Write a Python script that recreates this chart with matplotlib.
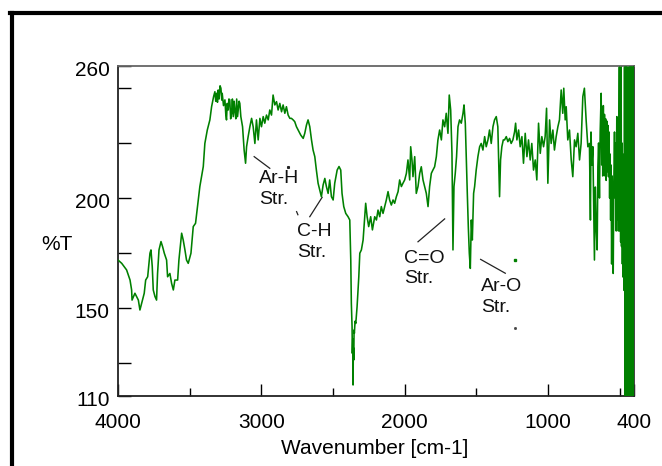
import matplotlib
matplotlib.use("Agg")
import matplotlib.pyplot as plt
from matplotlib.lines import Line2D
from matplotlib.transforms import ScaledTranslation

plt.rcParams['font.family'] = ['Liberation Sans', 'DejaVu Sans']

# IR spectrum: wavenumber (cm-1) and %T
wavenumber = [
    4000, 3974, 3940, 3916, 3905, 3902, 3882, 3858, 3847, 3835, 3817, 3807, 3793, 3777, 3770,
    3761, 3754, 3742, 3731, 3724, 3714, 3700, 3689, 3677, 3661, 3654, 3638, 3626, 3614, 3603,
    3584, 3575, 3563, 3556, 3545, 3533, 3522, 3510, 3491, 3475, 3459, 3445, 3429, 3417, 3405,
    3394, 3377, 3359, 3347, 3333, 3324, 3318, 3312, 3306, 3301, 3295, 3288, 3282, 3276, 3273,
    3264, 3254, 3248, 3243, 3238, 3231, 3226, 3220, 3214, 3208, 3202, 3196, 3190, 3185, 3178,
    3172, 3166, 3161, 3155, 3150, 3143, 3131, 3120, 3110,
    3103, 3092, 3080, 3068, 3057, 3045, 3034, 3022, 3010, 2999, 2987, 2976, 2964, 2952, 2941,
    2929, 2918, 2906, 2894, 2883, 2871, 2859, 2848, 2836, 2825, 2813, 2801, 2790, 2778, 2767,
    2755, 2743, 2725, 2708, 2697, 2685, 2674, 2662, 2650, 2639, 2627, 2616, 2604, 2592, 2581,
    2569, 2557, 2546, 2534, 2523, 2511, 2499, 2488, 2471, 2458, 2446, 2437, 2425, 2411, 2395,
    2383, 2376, 2372, 2367, 2365, 2362, 2360, 2358, 2355, 2353, 2351, 2346, 2341, 2332, 2320,
    2313, 2302, 2290, 2279, 2272, 2262, 2251, 2237, 2225, 2209,
    2197, 2186, 2174, 2163, 2151, 2139, 2128, 2116, 2105, 2093, 2081, 2070, 2058, 2046, 2035,
    2023, 2012, 2000, 1988, 1977, 1965, 1958, 1949, 1942, 1930, 1919, 1907, 1895, 1884, 1872,
    1861, 1849, 1837, 1826, 1814, 1803, 1791, 1779, 1768, 1756, 1744, 1733, 1721, 1710, 1698,
    1689, 1679, 1670, 1663, 1656, 1647, 1638, 1628, 1617, 1605, 1593, 1586, 1577, 1570, 1563,
    1556, 1549, 1542, 1535, 1528, 1519, 1512, 1501, 1489, 1477, 1466, 1454, 1442, 1431, 1419,
    1408, 1396, 1384, 1373, 1361, 1350, 1338, 1331, 1322, 1312,
    1303, 1291, 1280, 1268, 1257, 1245, 1233, 1226, 1217, 1205, 1194, 1182, 1171, 1159, 1147,
    1136, 1124, 1113, 1101, 1089, 1078, 1066, 1054, 1043, 1031, 1020, 1010, 1001, 989, 978,
    966, 955, 943, 931, 920, 908, 897, 890, 880, 873, 862, 850, 838, 827, 815,
    804, 792, 780, 769, 757, 746, 734, 722, 711, 704, 700, 694, 687, 680, 676,
    670, 664, 657, 652, 647, 641, 636, 629, 625, 621, 618, 614, 610, 606, 602,
    598, 594, 590, 586, 582, 578, 574, 570, 567, 563, 560, 556, 552, 548, 545,
    541, 536, 532, 528, 524, 520, 516, 513, 509, 505, 502, 499, 496, 493, 490,
    487, 484, 481, 478, 475, 472, 469, 466, 463, 460, 457, 454, 451, 448, 445,
    442, 439, 436, 433, 430, 427, 424, 421, 418, 415, 412, 409, 406, 403, 400,
]
transmittance = [
    171.8, 170.3, 167.3, 162.7, 158.2, 153.6, 156.7, 153.6, 149.1, 152.1, 156.7, 162.7, 164.2, 174.9, 176.4,
    168.8, 158.2, 155.2, 153.6, 165.7, 176.4, 180.2, 177.9, 174.9, 171.8, 164.2, 165.7, 161.2, 158.2, 162.7,
    162.7, 171.8, 179.4, 184.0, 180.9, 176.4, 171.8, 170.3, 174.9, 187.0, 188.5, 196.1, 205.2, 209.7, 214.3,
    224.8, 230.9, 235.5, 241.5, 246.1, 248.3, 244.0, 247.6, 243.5, 249.1, 245.0, 251.0, 249.9, 244.5, 247.6,
    242.0, 244.6, 238.0, 235.5, 243.0, 240.0, 245.0, 244.6, 236.0, 238.5, 245.0, 237.0, 244.0, 240.0, 236.0,
    245.0, 237.0, 240.0, 244.0, 243.0, 237.0, 232.4, 221.8, 215.8,
    223.3, 227.9, 232.4, 236.2, 232.4, 224.8, 235.5, 226.4, 236.2, 232.4, 237.0, 234.0, 237.7, 235.5, 240.0,
    237.7, 246.8, 242.3, 243.8, 240.0, 243.0, 239.2, 242.3, 238.5, 241.5, 237.7, 236.2, 236.2, 235.5, 234.7,
    232.4, 230.9, 228.6, 227.1, 229.4, 233.2, 235.5, 232.4, 226.4, 221.8, 218.8, 212.7, 206.7, 203.6, 200.6,
    205.9, 208.9, 205.2, 202.1, 208.2, 200.6, 199.1, 206.7, 212.7, 214.3, 212.7, 202.1, 196.1, 193.0, 191.5,
    190.0, 171.8, 152.1, 141.5, 129.4, 136.0, 115.0, 132.0, 126.4, 140.0, 138.5, 144.0, 143.0, 150.6, 164.2,
    174.9, 176.4, 180.9, 191.5, 197.6, 191.5, 187.0, 191.5, 185.5, 191.5,
    190.0, 194.5, 191.5, 196.1, 193.0, 196.1, 199.1, 202.9, 199.1, 196.8, 199.1, 197.6, 200.6, 202.9, 208.2,
    205.2, 206.7, 208.2, 211.2, 217.3, 208.2, 223.3, 217.3, 209.7, 218.8, 202.1, 205.2, 211.2, 214.2, 208.2,
    205.2, 202.1, 196.1, 205.2, 211.2, 212.7, 214.2, 218.8, 226.4, 230.9, 226.4, 235.5, 232.4, 238.5, 229.4,
    246.8, 240.0, 220.3, 176.4, 205.2, 211.2, 218.8, 232.4, 235.5, 234.0, 238.5, 242.3, 234.0, 217.3, 202.1,
    187.0, 174.9, 168.0, 190.0, 180.9, 202.1, 205.2, 212.7, 218.8, 223.3, 224.8, 221.8, 227.9, 223.3, 226.4,
    230.9, 224.8, 232.4, 235.5, 237.0, 232.4, 200.6, 217.3, 223.3, 226.4,
    226.4, 227.9, 225.6, 227.1, 224.8, 226.4, 230.1, 234.0, 226.4, 230.9, 223.3, 227.9, 215.8, 229.4, 218.8,
    226.4, 217.3, 224.8, 212.7, 217.3, 208.2, 234.0, 220.3, 227.9, 223.3, 227.9, 240.8, 206.7, 235.5, 224.8,
    230.9, 221.8, 227.9, 232.4, 235.5, 249.1, 238.5, 249.9, 235.5, 241.5, 226.4, 230.9, 217.3, 209.7, 226.4,
    223.3, 229.4, 217.3, 224.8, 246.1, 249.9, 235.5, 223.3, 224.8, 190.0, 230.0, 215.0, 223.3, 191.5, 171.8,
    205.0, 187.0, 176.4, 214.2, 225.0, 200.0, 230.0, 247.6, 215.0, 240.0, 210.0, 242.0, 212.0, 238.0, 210.0,
    236.0, 208.0, 235.0, 212.0, 233.0, 209.7, 230.0, 200.0, 220.0, 190.0, 215.0, 170.0, 210.0, 180.0, 165.7,
    205.0, 230.0, 200.0, 225.0, 185.0, 237.0, 190.0, 235.0, 185.0, 230.0, 259.5, 185.0, 230.0, 180.0, 259.5,
    178.0, 225.0, 170.0, 220.0, 164.0, 215.0, 158.0, 259.5, 110.0, 259.5, 115.0, 259.5, 110.0, 259.5, 110.0,
    230.0, 110.0, 259.5, 110.0, 259.5, 110.0, 259.5, 110.0, 259.5, 110.0, 259.5, 110.0, 259.5, 110.0, 259.5,
]

# peak labels: (text, x, y) plus leader lines
labels = ["Ar-H\nStr.", "C-H\nStr.", "C=O\nStr.", "Ar-O\nStr."]
label_x = [3017, 2752, 2005, 1465]
label_y = [212.5, 188.5, 176.5, 163.5]
lead_x = [(3050, 2941), (2662, 2576), (1907, 1721), (1470, 1298)]
lead_y = [(218.8, 213.5), (191.5, 200.3), (180.1, 190.5), (172.1, 165.8)]

fig = plt.figure(figsize=(6.62, 4.66), dpi=100)
ax = fig.add_axes([118/662, 1-396/466, 516/662, 330/466])

ax.plot(wavenumber, transmittance, color='#008000', lw=1.15, zorder=3)

for t, x, y in zip(labels, label_x, label_y):
    ax.text(x, y, t, fontsize=14, va='top', ha='left', color='#111111', linespacing=1.25)
for xs, ys in zip(lead_x, lead_y):
    ax.plot(xs, ys, color='#222222', lw=0.9)
# stray marks next to the labels
ax.plot([2813], [214.0], 's', ms=1.2, color='#222222')
ax.plot([2754, 2745], [193.8, 192.4], color='#222222', lw=0.9)
ax.plot([1233], [171.8], 's', ms=1.5, color='#008000')
ax.plot([1233], [140.9], 's', ms=1.0, color='#444444')

ax.set_xlim(4000, 400)
ax.set_ylim(110, 260)

ax.set_xticks([4000, 3000, 2000, 1000, 400], labels=['4000', '3000', '2000', '1000', '400'])
ax.set_xticks([3500, 2500, 1500, 500], minor=True)
ax.set_yticks([110, 125, 150, 175, 200, 225, 250, 260],
              labels=['110', '', '150', '', '200', '', '', '260'])
ax.tick_params(axis='x', which='major', direction='in', length=9, width=1, pad=12, labelsize=15)
ax.tick_params(axis='x', which='minor', direction='in', length=6, width=1)
ax.tick_params(axis='y', direction='in', length=9, width=1, pad=6, labelsize=15)
shift = ScaledTranslation(0, -3/100, fig.dpi_scale_trans)
for lab in ax.get_yticklabels():
    lab.set_transform(lab.get_transform() + shift)

for s in ['left', 'bottom']:
    ax.spines[s].set_color('#222222')
    ax.spines[s].set_linewidth(1.3)
ax.spines['top'].set_color('#666666')
ax.spines['top'].set_linewidth(1.3)
ax.spines['right'].set_color('#333333')
ax.spines['right'].set_linewidth(1.3)

fig.text(57/662, 1-244/466, '%T', fontsize=15, ha='center', va='center')
fig.text(375/662, 1-448/466, 'Wavenumber [cm-1]', fontsize=15, ha='center', va='center')

# outer frame (top and left edges only are visible)
fig.add_artist(Line2D([11.5/662, 11.5/662], [0, 1-13/466], transform=fig.transFigure, color='black', lw=3))
fig.add_artist(Line2D([10/662, 1], [1-13/466, 1-13/466], transform=fig.transFigure, color='black', lw=3))

fig.savefig('out.png', dpi=100)
